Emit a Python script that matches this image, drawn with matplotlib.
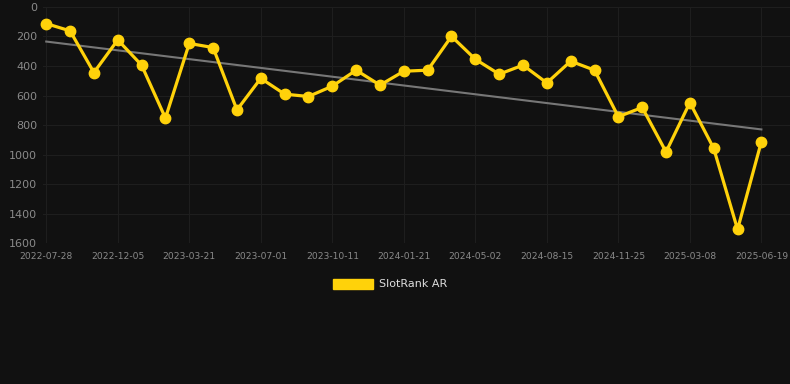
import numpy as np
import matplotlib
matplotlib.use("Agg")
import matplotlib.pyplot as plt
from matplotlib.patches import Patch

# SlotRank AR history (lower rank = better, so y axis is inverted)
ranks = [113, 162, 444, 223, 394, 752, 247, 275, 697, 483,
         590, 606, 536, 428, 529, 435, 428, 199, 354, 455,
         394, 514, 367, 428, 743, 680, 981, 647, 957, 1505, 911]
tick_labels = ["2022-07-28", "2022-12-05", "2023-03-21", "2023-07-01",
               "2023-10-11", "2024-01-21", "2024-05-02", "2024-08-15",
               "2024-11-25", "2025-03-08", "2025-06-19"]
series_name = "SlotRank AR"

bg = "#111111"
yellow = "#FFD20A"

fig = plt.figure(figsize=(7.9, 3.84), dpi=100, facecolor=bg)
ax = fig.add_axes([0.054, 0.366, 0.946, 0.616], facecolor=bg)

x = np.arange(len(ranks))

# linear trend
k, b = np.polyfit(x, ranks, 1)
ax.plot(x, k * x + b, color="#777777", lw=1.5, zorder=2)

ax.plot(x, ranks, color=yellow, lw=2.3, marker="o", markersize=7.5,
        zorder=3, clip_on=False)

ax.set_ylim(1600, 0)
ax.set_yticks(np.arange(0, 1601, 200))
ax.set_xlim(-0.15, len(ranks) - 1 + 1.2)
ax.set_xticks(x[::3])
ax.set_xticklabels(tick_labels)

ax.grid(True, color="#1e1e1e", lw=0.8)
ax.set_axisbelow(True)
for s in ax.spines.values():
    s.set_visible(False)
ax.tick_params(length=0, colors="#8a8a8a")
ax.tick_params(axis="y", labelsize=8, pad=4)
ax.tick_params(axis="x", labelsize=6.6, pad=6)

fig.legend(handles=[Patch(color=yellow, label=series_name)],
           loc="center", bbox_to_anchor=(390 / 790, 1 - 284 / 384),
           frameon=False, fontsize=8, labelcolor="#dddddd",
           handlelength=3.6, handleheight=1.0, handletextpad=0.5)

fig.savefig("out.png", dpi=100, facecolor=bg)
